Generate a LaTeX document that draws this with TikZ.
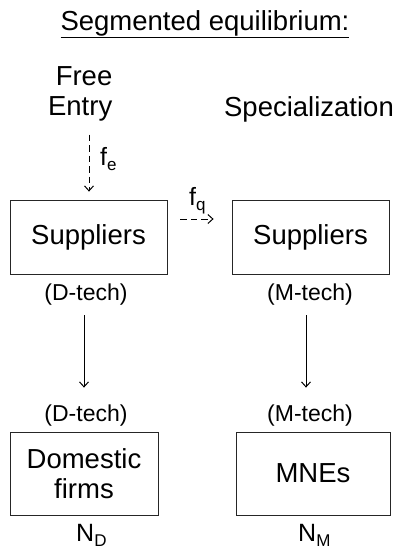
\documentclass[tikz,border=0pt]{standalone}
\usepackage{fontspec}
\setmainfont{Liberation Sans}
\usetikzlibrary{arrows.meta}
\newcommand{\mainsz}{\fontsize{27.5}{30}\selectfont}
\newcommand{\smallsz}{\fontsize{23}{26}\selectfont}
\newcommand{\varsz}{\fontsize{25}{28}\selectfont}
\newcommand{\subsz}{\fontsize{17}{17}\selectfont}
\newcommand{\mysub}[1]{\raisebox{-0.22em}{\subsz #1}}
\tikzset{
  box/.style={draw=black!85, line width=0.8pt, inner sep=0pt, font=\mainsz, align=center},
  lbl/.style={inner sep=0pt, font=\mainsz},
  sml/.style={inner sep=0pt, font=\smallsz},
  var/.style={inner sep=0pt, font=\varsz},
  arr/.style={line width=1pt, -{Straight Barb[length=5pt,width=9pt,line width=1pt]}},
  darr/.style={arr, dash pattern=on 6.5pt off 4pt}
}
\begin{document}
\begin{tikzpicture}[x=1pt,y=-1pt]
\useasboundingbox (0,0) rectangle (395,550);
\node[lbl, anchor=base] (title) at (205,30) {\underline{Segmented equilibrium:}};
\node[lbl, anchor=base east, align=right] (free) at (112.5,115) {Free\\Entry};
\node[lbl, anchor=base] (spec) at (309,116) {Specialization};
\node[box, minimum width=157pt, minimum height=74pt] (s1) at (88.5,237) {Suppliers};
\node[box, minimum width=157pt, minimum height=74pt] (s2) at (310.5,237) {Suppliers};
\node[sml, anchor=base] (dt1) at (86,300) {(D-tech)};
\node[sml, anchor=base] (mt1) at (310,300) {(M-tech)};
\node[sml, anchor=base] (dt2) at (86,421) {(D-tech)};
\node[sml, anchor=base] (mt2) at (310,421) {(M-tech)};
\node[box, minimum width=148pt, minimum height=83pt] (d) at (84,473.5) {Domestic\\firms};
\node[box, minimum width=154pt, minimum height=83pt] (m) at (313,473.5) {MNEs};
\node[var, anchor=base west] (nd) at (76,541) {N\mysub{D}};
\node[var, anchor=base west] (nm) at (298,541) {N\mysub{M}};
\draw[darr, shorten >=8pt] ([xshift=0.5pt,yshift=65pt]s1.north) -- ([xshift=0.5pt]s1.north);
\node[var, anchor=base west] (fe) at (100,165) {f\mysub{e}};
\draw[darr, shorten <=13pt, shorten >=18pt] ([yshift=18pt]s1.east) -- ([yshift=18pt]s2.west);
\node[var, anchor=base west] (fq) at (189,205) {f\mysub{q}};
\draw[arr, shorten <=41pt, shorten >=44pt] ([xshift=-4.5pt]s1.south) -- ([xshift=-4.5pt]s1.south |- d.north);
\draw[arr, shorten <=41pt, shorten >=44pt] ([xshift=-4.5pt]s2.south) -- ([xshift=-4.5pt]s2.south |- m.north);
\end{tikzpicture}
\end{document}
